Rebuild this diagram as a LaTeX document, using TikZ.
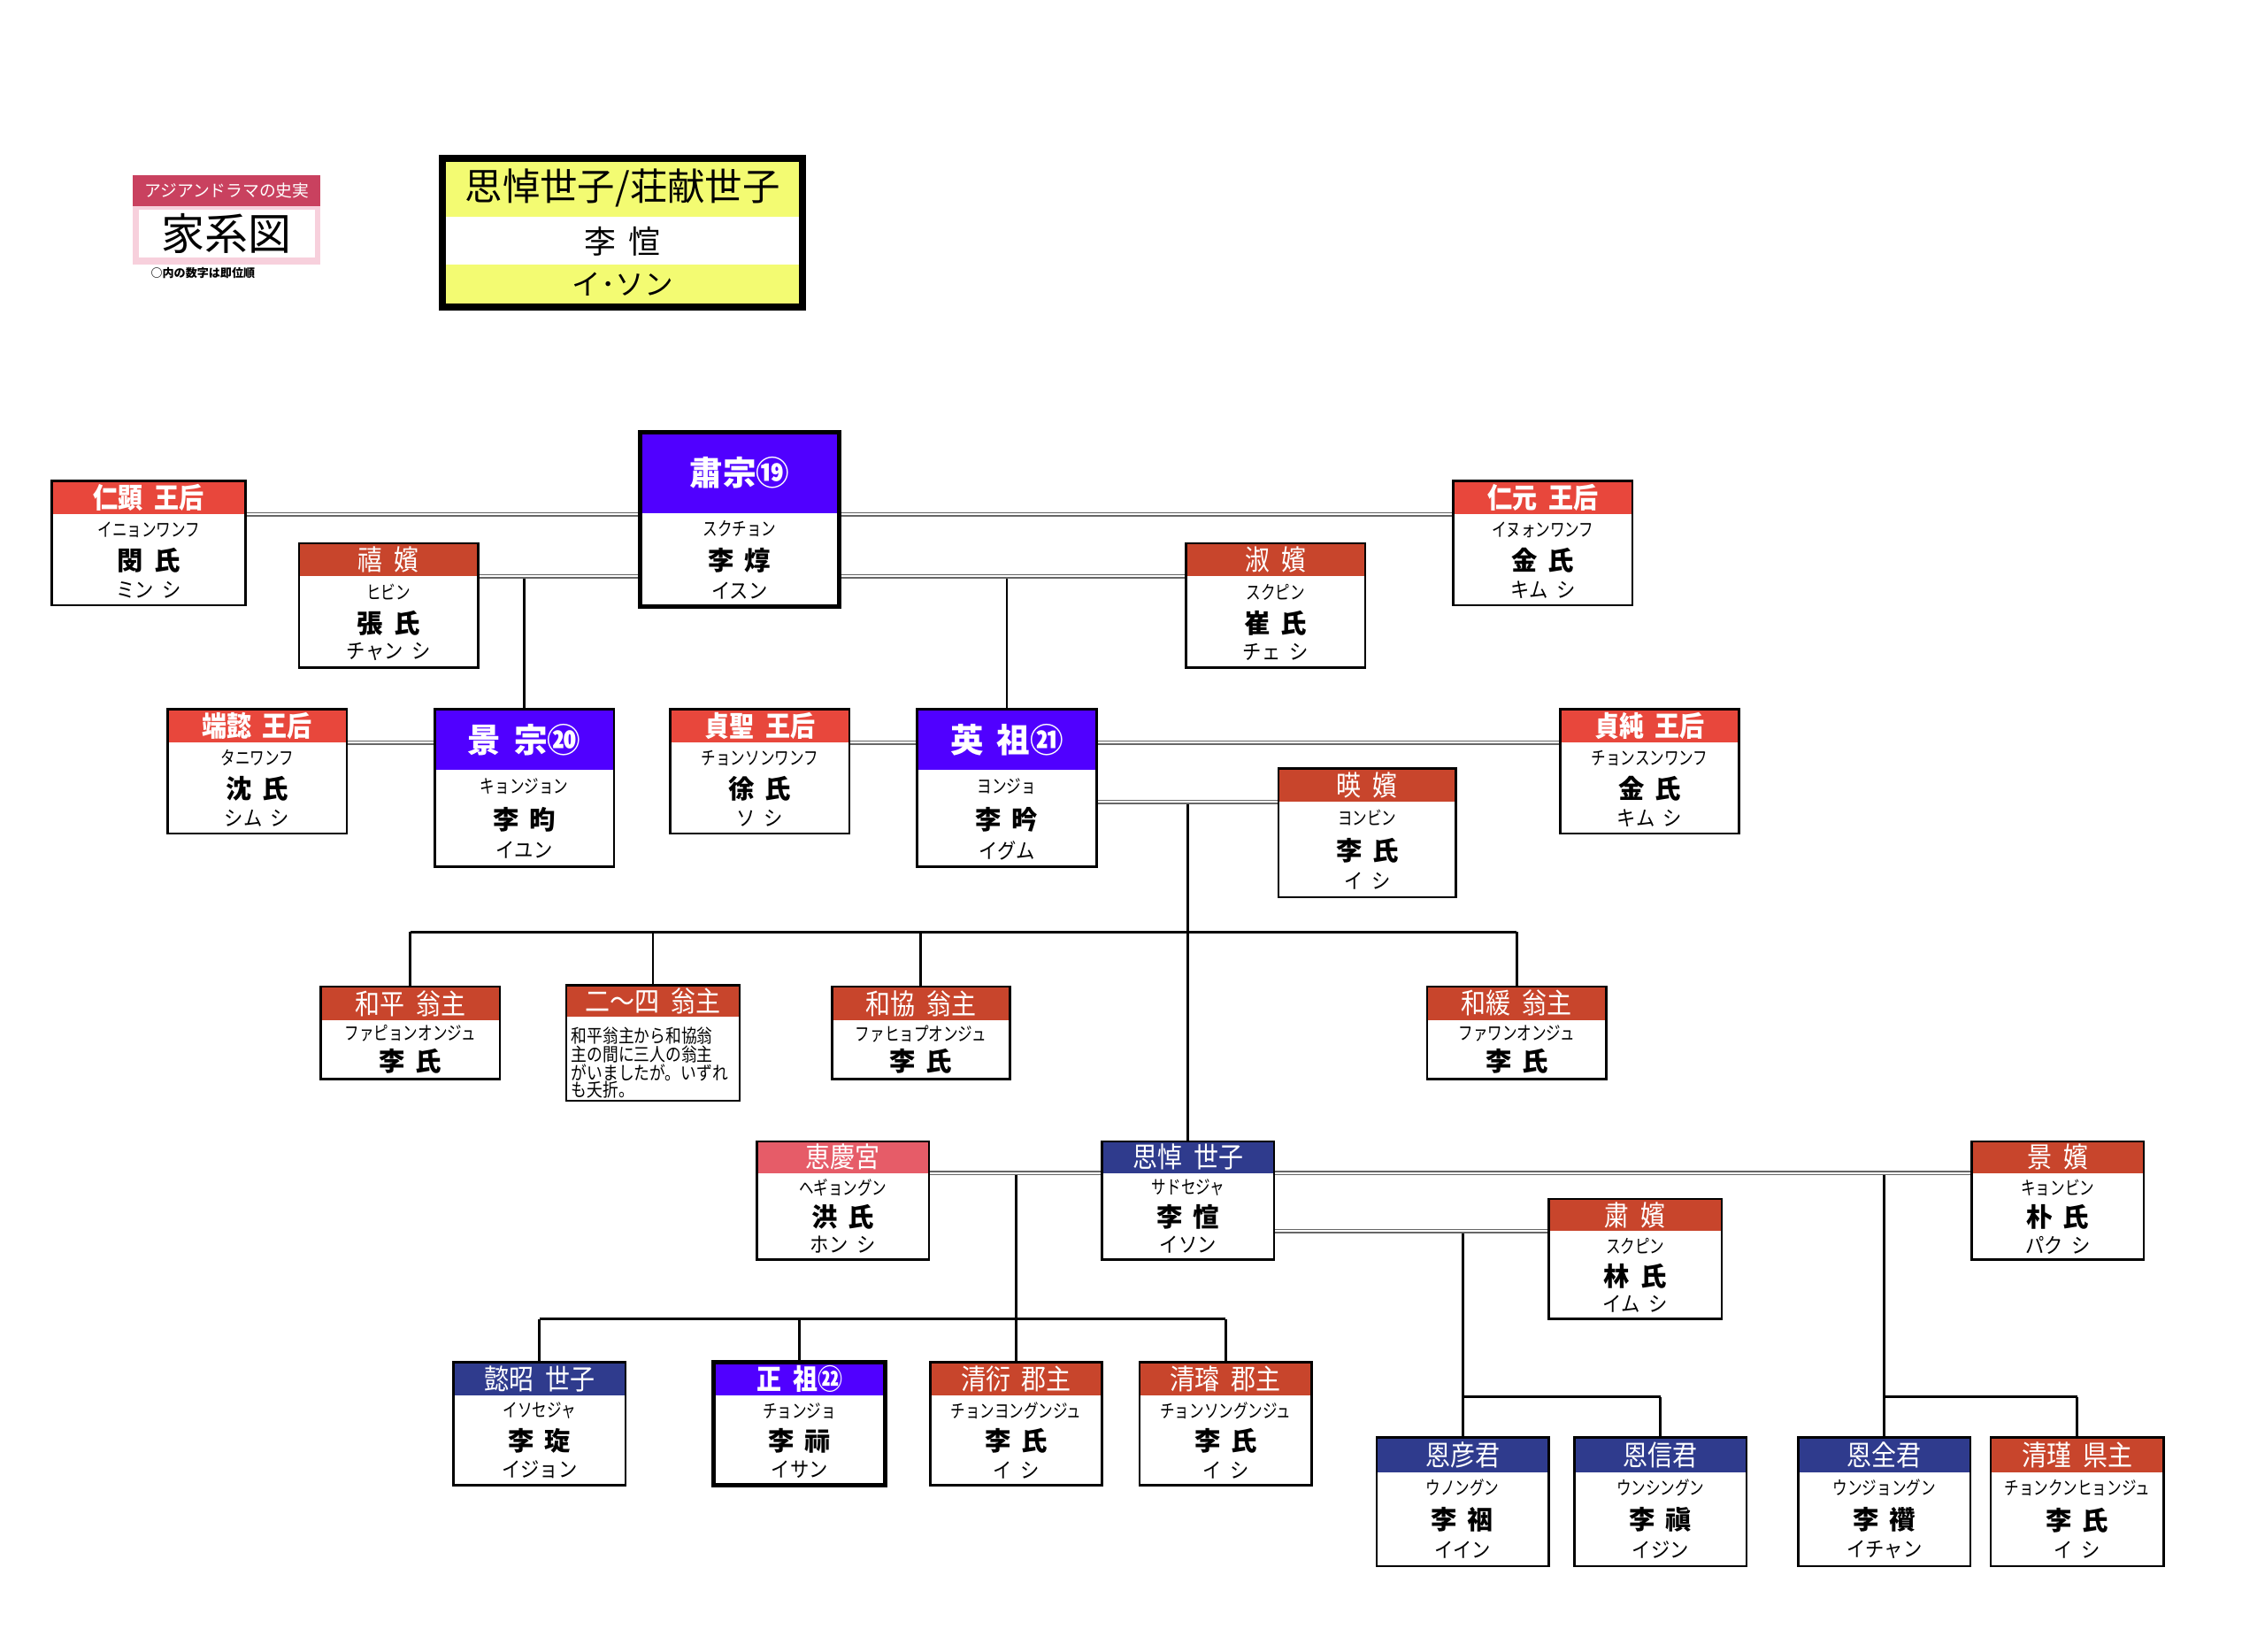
\documentclass[tikz,border=0pt]{standalone}
\usepackage{fontspec}
\usetikzlibrary{calc}
\newfontfamily\jp{Noto Sans CJK JP}
\newfontfamily\jph[FakeStretch=0.88]{Noto Sans CJK JP}
\newfontfamily\jpk[FakeStretch=0.78]{Noto Sans CJK JP}
\newfontfamily\jpr[FakeStretch=0.9]{Noto Sans CJK JP}
\newfontfamily\jpn[FakeStretch=0.85]{Noto Sans CJK JP}
\definecolor{qred}{HTML}{E8473C}
\definecolor{dred}{HTML}{C8452C}
\definecolor{kpur}{HTML}{5000FF}
\definecolor{sblue}{HTML}{2F3B8D}
\definecolor{hpink}{HTML}{E65C68}
\definecolor{bcrim}{HTML}{C9415F}
\definecolor{bpink}{HTML}{F7D0DC}
\definecolor{ttyel}{HTML}{F3FB72}
\newcommand\gap{\hspace{0.4em}}
\newcommand\hB{\fontsize{19.5}{19.5}\selectfont\jph\bfseries}
\newcommand\hR{\fontsize{19.5}{19.5}\selectfont\jph}
\newcommand\hK{\fontsize{23}{23}\selectfont\jp\bfseries}
\pgfdeclarelayer{bg}
\pgfsetlayers{bg,main}
\tikzset{
 every node/.style={inner sep=0pt, outer sep=0pt},
 hdr/.style={anchor=north west, draw=none},
 pframe/.style={anchor=north west, draw=black, line width=1.6},
 kframe/.style={anchor=north west, draw=black, line width=3},
 htext/.style={text=white},
 kana/.style={font=\fontsize{13}{13}\selectfont\jpk},
 pname/.style={font=\fontsize{18}{18}\selectfont\jp\bfseries},
 pread/.style={font=\fontsize{14.5}{14.5}\selectfont\jpr},
 dbl/.style={draw=black!60, double=white, line width=0.9, double distance=1.3},
 ln/.style={draw=black, line width=1.8},
}
% id x y w h hh color framestyle title
\newcommand\pbox[9]{%
 \node[hdr, fill=#7, minimum width=#4, minimum height=#6] (#1h) at (#2,#3) {};
 \node[#8, minimum width=#4, minimum height=#5] (#1) at (#2,#3) {};
 \node[htext] (#1t) at (#1h.center) {#9};
}
\newcommand\pbody[4]{%
 \node[kana] (#1k) at ($(#1h.south)!0.17!(#1.south)$) {#2};
 \node[pname] (#1n) at ($(#1h.south)!0.51!(#1.south)$) {#3};
 \node[pread] (#1r) at ($(#1h.south)!0.83!(#1.south)$) {#4};
}
\newcommand\pbodyII[3]{%
 \node[kana] (#1k) at ($(#1h.south)!0.23!(#1.south)$) {#2};
 \node[pname] (#1n) at ($(#1h.south)!0.70!(#1.south)$) {#3};
}
\begin{document}
\begin{tikzpicture}[x=1pt,y=-1pt]
\useasboundingbox (0,0) rectangle (1568,1143);

% badge
\node[anchor=north west, fill=bcrim, minimum width=130, minimum height=22] (bdg) at (92,121) {};
\node[text=white, font=\fontsize{11.5}{11.5}\selectfont\jp] (bdgt) at (bdg.center) {アジアンドラマの史実};
\node[anchor=north west, fill=bpink, minimum width=130, minimum height=40] (bdgf) at (92,143) {};
\node[anchor=north west, fill=white, minimum width=122, minimum height=33] (bdgw) at (96,145) {};
\node[font=\fontsize{30}{30}\selectfont\jp] (bdgwt) at (bdgw.center) {家系図};
\node[font=\fontsize{8}{8}\selectfont\jp\bfseries] (cap) at (140.5,189) {○内の数字は即位順};

% title box
\node[anchor=north west, fill=ttyel, minimum width=249, minimum height=40.5] (tt1) at (306.5,109.5) {};
\node[anchor=north west, fill=white, minimum width=249, minimum height=33] (tt2) at (306.5,150) {};
\node[anchor=north west, fill=ttyel, minimum width=249, minimum height=29.5] (tt3) at (306.5,183) {};
\node[anchor=north west, draw=black, line width=5, minimum width=249, minimum height=103] (ttl) at (306.5,109.5) {};
\node[font=\fontsize{26}{26}\selectfont\jp] (tt1t) at (431,130) {思悼世子/荘献世子};
\node[font=\fontsize{22}{22}\selectfont\jp] (tt2t) at (431,167) {李\gap 愃};
\node[font=\fontsize{20}{20}\selectfont\jp] (tt3t) at (431,197) {イ･ソン};

% row 1
\pbox{ninh}{36}{333}{134}{86}{23}{qred}{pframe}{\hB 仁顕\gap 王后}
\pbody{ninh}{イニョンワンフ}{閔\gap 氏}{ミン\gap シ}
\pbox{suk}{443}{299}{138}{121}{56}{kpur}{kframe}{\hK 肅宗⑲}
\pbody{suk}{スクチョン}{李\gap 焞}{イスン}
\pbox{inw}{1006}{333}{124}{86}{23}{qred}{pframe}{\hB 仁元\gap 王后}
\pbody{inw}{イヌォンワンフ}{金\gap 氏}{キム\gap シ}
\pbox{hui}{207}{376}{124}{86}{23}{dred}{pframe}{\hR 禧\gap 嬪}
\pbody{hui}{ヒビン}{張\gap 氏}{チャン\gap シ}
\pbox{sukb}{821}{376}{124}{86}{23}{dred}{pframe}{\hR 淑\gap 嬪}
\pbody{sukb}{スクピン}{崔\gap 氏}{チェ\gap シ}

% row 2
\pbox{dani}{116}{491}{124}{86}{23}{qred}{pframe}{\hB 端懿\gap 王后}
\pbody{dani}{タニワンフ}{沈\gap 氏}{シム\gap シ}
\pbox{gyj}{301}{491}{124}{109}{42}{kpur}{pframe}{\hK 景\gap 宗⑳}
\pbody{gyj}{キョンジョン}{李\gap 昀}{イユン}
\pbox{jss}{464}{491}{124}{86}{23}{qred}{pframe}{\hB 貞聖\gap 王后}
\pbody{jss}{チョンソンワンフ}{徐\gap 氏}{ソ\gap シ}
\pbox{yj}{635}{491}{124}{109}{42}{kpur}{pframe}{\hK 英\gap 祖㉑}
\pbody{yj}{ヨンジョ}{李\gap 昑}{イグム}
\pbox{ybin}{885}{532}{123}{89}{23}{dred}{pframe}{\hR 暎\gap 嬪}
\pbody{ybin}{ヨンビン}{李\gap 氏}{イ\gap シ}
\pbox{jsun}{1080}{491}{124}{86}{23}{qred}{pframe}{\hB 貞純\gap 王后}
\pbody{jsun}{チョンスンワンフ}{金\gap 氏}{キム\gap シ}

% row 3
\pbox{hwp}{222}{683}{124}{64}{23}{dred}{pframe}{\hR 和平\gap 翁主}
\pbodyII{hwp}{ファピョンオンジュ}{李\gap 氏}
\pbox{ni}{392}{682}{120}{80}{22}{dred}{pframe}{\hR 二〜四\gap 翁主}
\node[anchor=north west, align=left, font=\fontsize{12.8}{11.8}\selectfont\jpn] (nit) at ($(nih.south west)+(3.5,7)$) {和平翁主から和協翁\\主の間に三人の翁主\\がいましたが。いずれ\\も夭折。};
\pbox{hwh}{576}{683}{123}{64}{23}{dred}{pframe}{\hR 和協\gap 翁主}
\pbodyII{hwh}{ファヒョプオンジュ}{李\gap 氏}
\pbox{hww}{988}{683}{124}{64}{23}{dred}{pframe}{\hR 和緩\gap 翁主}
\pbodyII{hww}{ファワンオンジュ}{李\gap 氏}

% row 4
\pbox{hgg}{524}{790}{119}{82}{22}{hpink}{pframe}{\hR 恵慶宮}
\pbody{hgg}{ヘギョングン}{洪\gap 氏}{ホン\gap シ}
\pbox{sado}{763}{790}{119}{82}{22}{sblue}{pframe}{\hR 思悼\gap 世子}
\pbody{sado}{サドセジャ}{李\gap 愃}{イソン}
\pbox{gyb}{1365}{790}{119}{82}{22}{dred}{pframe}{\hR 景\gap 嬪}
\pbody{gyb}{キョンビン}{朴\gap 氏}{パク\gap シ}
\pbox{skb}{1072}{830}{120}{83}{22}{dred}{pframe}{\hR 粛\gap 嬪}
\pbody{skb}{スクピン}{林\gap 氏}{イム\gap シ}

% row 5
\pbox{uis}{314}{943}{119}{85}{23}{sblue}{pframe}{\hR 懿昭\gap 世子}
\pbody{uis}{イソセジャ}{李\gap 琁}{イジョン}
\pbox{jjo}{494}{943}{119}{85}{23}{kpur}{kframe}{\hB 正\gap 祖㉒}
\pbody{jjo}{チョンジョ}{李\gap 祘}{イサン}
\pbox{cy}{644}{943}{119}{85}{23}{dred}{pframe}{\hR 清衍\gap 郡主}
\pbody{cy}{チョンヨングンジュ}{李\gap 氏}{イ\gap シ}
\pbox{cs}{789}{943}{119}{85}{23}{dred}{pframe}{\hR 清璿\gap 郡主}
\pbody{cs}{チョンソングンジュ}{李\gap 氏}{イ\gap シ}

% row 6
\pbox{euo}{953}{995}{119}{89}{24}{sblue}{pframe}{\hR 恩彦君}
\pbody{euo}{ウノングン}{李\gap 䄄}{イイン}
\pbox{eus}{1090}{995}{119}{89}{24}{sblue}{pframe}{\hR 恩信君}
\pbody{eus}{ウンシングン}{李\gap 禛}{イジン}
\pbox{euj}{1245}{995}{119}{89}{24}{sblue}{pframe}{\hR 恩全君}
\pbody{euj}{ウンジョングン}{李\gap 禶}{イチャン}
\pbox{cg}{1378}{995}{120}{89}{24}{dred}{pframe}{\hR 清瑾\gap 県主}
\pbody{cg}{チョンクンヒョンジュ}{李\gap 氏}{イ\gap シ}

% connectors
\begin{pgfonlayer}{bg}
\fill[white] (0,0) rectangle (1568,1143);
\coordinate (bus1) at (823,645);
\coordinate (bus2) at (704,913);
\coordinate (bus3) at (1013,967);
% verticals
\draw[ln] (huih.south east -| gyj.north) -- (gyj.north);
\draw[ln] (sukbh.south west -| yj.north) -- (yj.north);
\draw[ln] (ybinh.south west -| sado.north) -- (sado.north);
\draw[ln] (bus1 -| hwp.north) -- (bus1 -| hww.north);
\draw[ln] (bus1 -| hwp.north) -- (hwp.north);
\draw[ln] (bus1 -| ni.north) -- (ni.north);
\draw[ln] (bus1 -| hwh.north) -- (hwh.north);
\draw[ln] (bus1 -| hww.north) -- (hww.north);
\draw[ln] (hggh.south east -| cy.north) -- (cy.north);
\draw[ln] (bus2 -| uis.north) -- (bus2 -| cs.north);
\draw[ln] (bus2 -| uis.north) -- (uis.north);
\draw[ln] (bus2 -| jjo.north) -- (jjo.north);
\draw[ln] (bus2 -| cs.north) -- (cs.north);
\draw[ln] (skbh.south west -| euo.north) -- (euo.north);
\draw[ln] (bus3 -| euo.north) -- (bus3 -| eus.north);
\draw[ln] (bus3 -| eus.north) -- (eus.north);
\draw[ln] (sadoh.south east -| euj.north) -- (euj.north);
\draw[ln] (bus3 -| euj.north) -- (bus3 -| cg.north);
\draw[ln] (bus3 -| cg.north) -- (cg.north);
% marriage lines
\draw[dbl] (ninhh.south east) -- (ninhh.south east -| suk.west);
\draw[dbl] (inwh.south west -| suk.east) -- (inwh.south west);
\draw[dbl] (huih.south east) -- (huih.south east -| suk.west);
\draw[dbl] (sukbh.south west -| suk.east) -- (sukbh.south west);
\draw[dbl] (danih.south east) -- (danih.south east -| gyj.west);
\draw[dbl] (jssh.south east) -- (jssh.south east -| yj.west);
\draw[dbl] (jsunh.south west -| yj.east) -- (jsunh.south west);
\draw[dbl] (ybinh.south west -| yj.east) -- (ybinh.south west);
\draw[dbl] (hggh.south east) -- (hggh.south east -| sado.west);
\draw[dbl] (sadoh.south east) -- (sadoh.south east -| gyb.west);
\draw[dbl] (skbh.south west -| sado.east) -- (skbh.south west);
\end{pgfonlayer}
\end{tikzpicture}
\end{document}
